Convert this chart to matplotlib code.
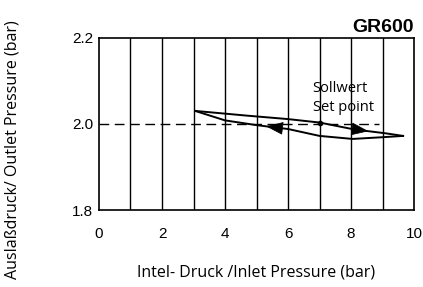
import numpy as np
import matplotlib
matplotlib.use("Agg")
import matplotlib.pyplot as plt

# inlet pressure rising (upper branch)
up_x = [3.05, 4.7, 6.0, 7.0, 8.1, 9.1, 9.65]
up_y = [2.030, 2.019, 2.011, 2.003, 1.987, 1.978, 1.972]

# inlet pressure falling (lower branch)
down_x = [9.65, 9.0, 8.05, 7.0, 6.0, 5.0, 4.0, 3.05]
down_y = [1.972, 1.969, 1.965, 1.972, 1.988, 1.997, 2.008, 2.030]

set_x, set_y = 7.0, 2.003
xticks = [0, 2, 4, 6, 8, 10]
yticks = [1.8, 2.0, 2.2]

fig = plt.figure(figsize=(4.23, 2.87), dpi=100)
ax = fig.add_axes([0.234, 0.268, 0.745, 0.601])

ax.set_xlim(0, 10)
ax.set_ylim(1.8, 2.2)

# vertical grid every 1 bar
for gx in range(1, 10):
    ax.axvline(gx, color="black", lw=1)
ax.plot([0, 8.9], [set_y - 0.003, set_y - 0.003], color="black", lw=1, dashes=(7, 4))

ax.plot(up_x, up_y, color="black", lw=1.4)
ax.plot(down_x, down_y, color="black", lw=1.4)
ax.plot(set_x, set_y, "o", color="black", ms=3)

# direction arrows
head = dict(arrowstyle="-|>,head_length=0.8,head_width=0.3", color="black", lw=0.5,
            mutation_scale=14, shrinkA=0, shrinkB=0)
ax.annotate("", xy=(8.55, np.interp(8.55, up_x, up_y)), xytext=(8.0, np.interp(8.0, up_x, up_y)),
            arrowprops=head)
ax.annotate("", xy=(5.3, np.interp(5.3, down_x[::-1], down_y[::-1])),
            xytext=(5.9, np.interp(5.9, down_x[::-1], down_y[::-1])),
            arrowprops=head)

ax.text(6.78, 2.083, "Sollwert", fontsize=10.5, family="Open Sans", va="center")
ax.text(6.78, 2.037, "Set point", fontsize=10.5, family="Open Sans", va="center")

ax.set_xticks(xticks)
ax.set_yticks(yticks)
ax.set_yticklabels(["1.8", "2.0", "2.2"])
ax.tick_params(length=0, labelsize=11)
ax.tick_params(axis="x", pad=12)
ax.tick_params(axis="y", pad=4)
for lab in ax.get_xticklabels() + ax.get_yticklabels():
    lab.set_family("Liberation Sans")
for s in ax.spines.values():
    s.set_linewidth(1.2)

ax.set_xlabel("Intel- Druck /Inlet Pressure (bar)", fontsize=11.5, family="Open Sans", labelpad=17)
fig.text(0.03, 0.48, "Auslaßdruck/ Outlet Pressure (bar)", rotation=90, fontsize=11.5,
         family="Open Sans", ha="center", va="center")
ax.set_title("GR600", loc="right", fontsize=14, fontweight="bold", family="Liberation Sans", pad=4)

fig.savefig("out.png", dpi=100)
